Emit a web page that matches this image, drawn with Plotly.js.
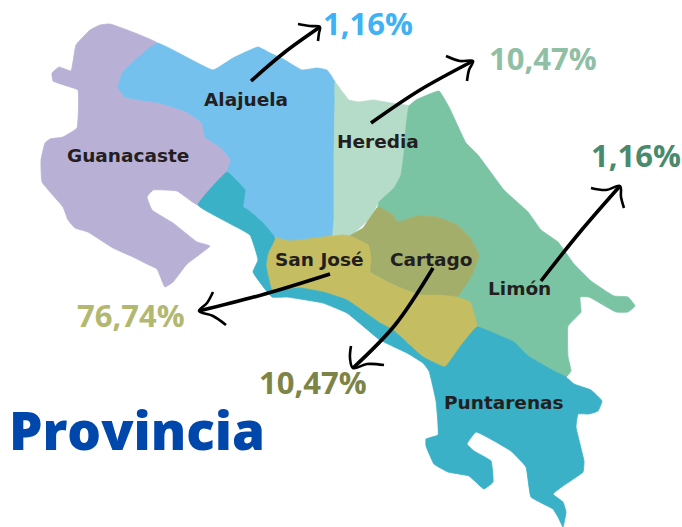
<!DOCTYPE html>
<html><head><meta charset="utf-8">
<script src="https://cdn.plot.ly/plotly-3.0.1.min.js"></script>
<style>html,body{margin:0;padding:0;background:#fff}#c{width:682px;height:527px}</style>
</head><body><div id="c"></div>
<script>
const provinces = ["Guanacaste","Alajuela","Heredia","Limón","Cartago","San José","Puntarenas"];
const shares = ["1,16%","10,47%","1,16%","76,74%","10,47%"];
const guanacaste = [[110,24],[157,43],[133,62],[123,72],[118,87],[125,97],[160,103],[187,112],[202,123],[205,137],[220,147],[231,160],[227,172],[198,205],[177,191],[153,190],[147,197],[152,210],[173,223],[197,242],[210,246],[187,264],[173,282],[165,287],[157,269],[147,264],[133,257],[113,248],[88,232],[75,228],[68,220],[63,207],[42,182],[41,160],[45,143],[50,139],[63,137],[77,128],[78,90],[67,86],[53,81],[52,73],[59,67],[71,71],[76,45],[90,30],[100,25]];
const alajuela = [[157,43],[213,70],[233,58],[258,47],[270,53],[283,59],[302,70],[317,68],[327,70],[335,82],[335,100],[334,160],[334,220],[333,235],[290,242],[275,237],[263,223],[248,210],[243,207],[245,190],[233,177],[227,172],[231,160],[220,147],[205,137],[202,123],[187,112],[160,103],[125,97],[118,87],[123,72],[133,62]];
const heredia = [[335,82],[341,90],[349,100],[359,102],[373,100],[391,103],[409,106],[406,127],[404,153],[401,175],[394,188],[379,202],[376,207],[368,220],[350,236],[343,235],[333,235],[334,220],[334,160],[335,100]];
const limon = [[409,106],[416,100],[439,91],[449,107],[466,143],[478,155],[504,190],[528,212],[541,230],[558,242],[574,264],[591,281],[614,296],[628,297],[635,306],[628,312],[616,312],[589,297],[580,297],[581,312],[568,326],[568,357],[571,371],[566,377],[554,371],[528,356],[514,342],[498,335],[477,327],[470,302],[457,297],[473,273],[479,255],[470,238],[457,225],[437,217],[417,216],[398,222],[393,215],[378,207],[379,202],[394,188],[401,175],[404,153],[406,127]];
const cartago = [[378,207],[393,215],[398,222],[417,216],[437,217],[457,225],[470,238],[479,255],[473,273],[457,297],[437,295],[420,295],[398,287],[370,272],[371,257],[368,245],[350,236],[363,228]];
const sanJose = [[275,238],[290,241],[323,237],[343,235],[350,236],[368,245],[371,257],[370,272],[398,287],[420,295],[437,295],[457,297],[470,302],[477,327],[460,347],[445,367],[423,357],[393,330],[380,323],[347,300],[323,292],[300,288],[272,290],[266,265],[268,253]];
const puntarenas = [[198,205],[227,172],[233,177],[245,190],[243,207],[248,210],[263,223],[275,238],[268,253],[266,265],[272,290],[300,288],[323,292],[347,300],[380,323],[393,330],[423,357],[445,367],[460,347],[477,327],[498,335],[514,342],[528,356],[554,371],[566,377],[574,384],[591,390],[602,401],[598,411],[589,414],[578,414],[576,427],[584,461],[583,472],[563,486],[553,494],[563,502],[566,512],[563,527],[558,517],[553,509],[531,497],[526,467],[511,451],[476,432],[467,444],[474,451],[491,461],[493,482],[484,489],[469,476],[448,472],[434,464],[426,446],[426,439],[438,435],[436,401],[429,371],[423,363],[407,353],[380,340],[347,313],[323,303],[287,297],[272,297],[253,272],[258,260],[250,235]];
const regionShapes = [guanacaste,alajuela,heredia,limon,cartago,sanJose,puntarenas];
const regionColors = ["#B9B0D6","#74C1EE","#B5DCC9","#7BC4A3","#A3AE6B","#C4BD62","#3AB1C6"];
const labelPos = [[128,155],[246,99],[378,141],[519,288],[431,259],[319,259],[504,402]];
const sharePos = [[368,23],[543,58],[636,155],[131,315],[313,382]];
const shareColors = ["#3FB1F5","#8FBFA5","#4A8A6C","#B2B870","#7C8446"];
const arrowShafts = [[[251,81],[285,52],[320,27]],[[371,123],[420,90],[473,61]],[[541,281],[580,232],[620,186]],[[330,274],[265,294],[199,311]],[[433,268],[395,325],[353,368]]];
const arrowHeads = [[[298,24],[310,26],[320,27],[319,33],[318,41]],[[446,56],[460,61],[473,61],[469,70],[467,81]],[[591,188],[606,190],[620,186],[621,197],[624,208]],[[213,292],[207,303],[199,311],[213,316],[226,325]],[[351,346],[350,358],[353,368],[367,364],[384,365]]];

const xs = a => a.map(p => p[0]);
const ys = a => a.map(p => p[1]);
const closed = a => a.concat([a[0]]);
const traces = [];
regionShapes.forEach((s,i) => traces.push({type:"scatter",mode:"lines",x:xs(closed(s)),y:ys(closed(s)),fill:"toself",fillcolor:regionColors[i],line:{color:regionColors[i],width:0.8,shape:"spline",smoothing:0.3},hoverinfo:"skip",showlegend:false,name:provinces[i]}));
arrowShafts.forEach(s => traces.push({type:"scatter",mode:"lines",x:xs(s),y:ys(s),line:{color:"#000",width:3.6,shape:"spline"},hoverinfo:"skip",showlegend:false}));
arrowHeads.forEach(s => traces.push({type:"scatter",mode:"lines",x:xs(s),y:ys(s),line:{color:"#000",width:2.6,shape:"spline"},hoverinfo:"skip",showlegend:false}));

const annotations = [];
provinces.forEach((p,i) => annotations.push({x:labelPos[i][0],y:labelPos[i][1],xref:"x",yref:"y",text:p,showarrow:false,xanchor:"center",yanchor:"middle",font:{family:"DejaVu Sans",size:18.5,color:"#231F20",weight:700}}));
shares.forEach((t,i) => annotations.push({x:sharePos[i][0],y:sharePos[i][1],xref:"x",yref:"y",text:t,showarrow:false,xanchor:"center",yanchor:"middle",font:{family:"Open Sans",size:31,color:shareColors[i],weight:700}}));
annotations.push({x:137,y:429,xref:"x",yref:"y",text:"Provincia",showarrow:false,xanchor:"center",yanchor:"middle",font:{family:"Open Sans",size:53,color:"#0047AB",weight:800}});

const layout = {width:682,height:527,margin:{l:0,r:0,t:0,b:0},paper_bgcolor:"#fff",plot_bgcolor:"#fff",showlegend:false,
  xaxis:{range:[0,682],visible:false,fixedrange:true},
  yaxis:{range:[527,0],visible:false,fixedrange:true},
  annotations};
Plotly.newPlot("c",traces,layout,{displayModeBar:false,staticPlot:true});
</script></body></html>
